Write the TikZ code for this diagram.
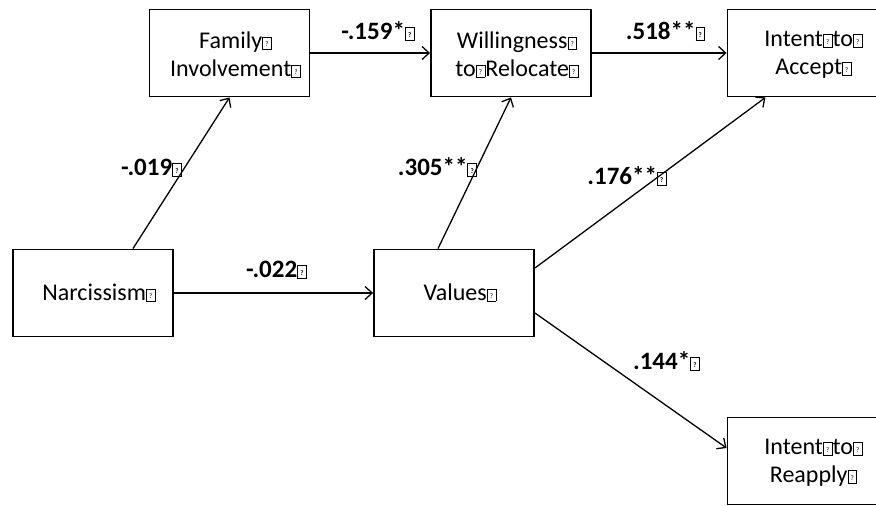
\documentclass[tikz,border=0pt]{standalone}
\usepackage{fontspec}
\setmainfont{Carlito}
\usetikzlibrary{arrows.meta}

% small framed placeholder glyph
\newcommand\gq{{\setlength\fboxsep{0pt}\setlength\fboxrule{0.8pt}%
  \fbox{\makebox[8pt]{\rule{0pt}{11.5pt}\raisebox{2.5pt}{\fontsize{7}{7}\selectfont ?}}}}}

\tikzset{
  var/.style={draw, line width=1.9pt, minimum width=160pt, minimum height=87pt, inner sep=0pt},
  vartext/.style={font=\fontsize{24}{28}\selectfont, align=center},
  path/.style={line width=1.3pt, -{Straight Barb[length=7pt,width=13pt,line width=1.3pt]}},
  coef/.style={font=\fontsize{25}{28}\selectfont\bfseries, inner sep=0pt}
}

\begin{document}
\begin{tikzpicture}[x=1pt,y=-1pt]
  \clip (0,0) rectangle (876,506);
  \useasboundingbox (0,0) rectangle (876,506);

  % variables
  \node[var, label={[vartext, xshift=6pt, yshift=-2pt]center:Family\gq\\Involvement\gq}] (fam) at (229.5,53) {};
  \node[var, label={[vartext, xshift=6pt, yshift=-2pt]center:Willingness\gq\\to\gq{}Relocate\gq}] (will) at (511,53) {};
  \node[var, label={[vartext, xshift=6pt, yshift=-2pt]center:Intent\gq{}to\gq\\Accept\gq}] (acc) at (807.5,53) {};
  \node[var, label={[vartext, xshift=6pt]center:Narcissism\gq}] (nar) at (93,293) {};
  \node[var, label={[vartext, xshift=6pt]center:Values\gq}] (val) at (454,293) {};
  \node[var, label={[vartext, xshift=6pt, yshift=-2pt]center:Intent\gq{}to\gq\\Reapply\gq}] (reap) at (807.5,461) {};

  % paths
  \draw[path] ([xshift=40pt]nar.north) -- (fam.south);
  \draw[path] (fam.east) -- (will.west);
  \draw[path] (will.east) -- (acc.west);
  \draw[path] (nar.east) -- (val.west);
  \draw[path] ([xshift=-16pt]val.north) -- (will.south);
  \draw[path] ([yshift=25pt]val.east) -- ([xshift=-42pt]acc.south);
  \draw[path] ([yshift=-20pt]val.east) -- ([yshift=13pt]reap.west);

  % path coefficients
  \node[coef] (c1) at (378,31) {-.159*\gq};
  \node[coef] (c2) at (665.5,31) {.518**\gq};
  \node[coef] (c3) at (151.5,168) {-.019\gq};
  \node[coef] (c4) at (276.5,270) {-.022\gq};
  \node[coef] (c5) at (437.5,167) {.305**\gq};
  \node[coef] (c6) at (627,176) {.176**\gq};
  \node[coef] (c7) at (666.5,361) {.144*\gq};
\end{tikzpicture}
\end{document}
